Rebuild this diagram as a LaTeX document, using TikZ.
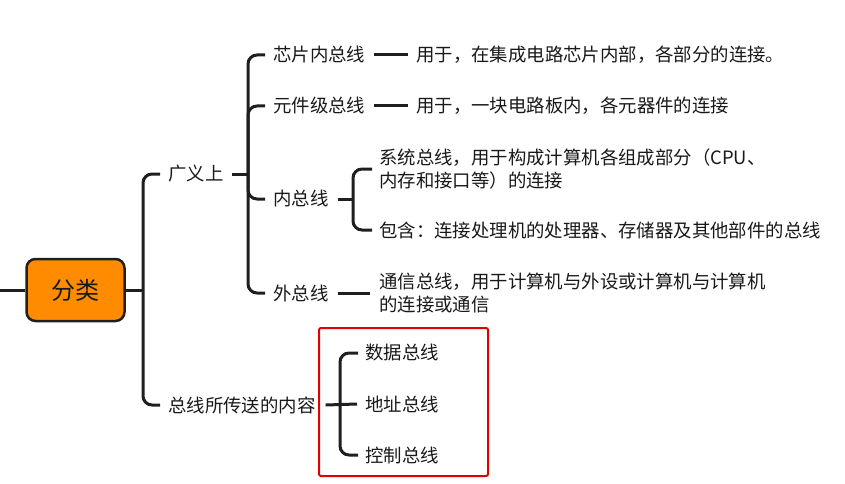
\documentclass[tikz,border=0pt]{standalone}
\usepackage{fontspec}
\newfontfamily\cjk{Noto Sans CJK SC}
\begin{document}
\begin{tikzpicture}[x=1pt,y=-1pt,
  conn/.style={line width=3pt,draw=black!88},
  txt/.style={anchor=west,inner sep=0pt,font=\cjk\fontsize{18.4}{23.5}\selectfont,text=black!90,align=left},
  rootbox/.style={draw=black!88,line width=2.5pt,rounded corners=9pt,minimum width=98pt,minimum height=62pt,font=\cjk\fontsize{24}{26}\selectfont,text=black!90},
  redbox/.style={draw=red!90!black,line width=2pt,rounded corners=2pt}]
\useasboundingbox (0,0) rectangle (845,484);
\definecolor{rootor}{RGB}{255,140,0}
\coordinate (lft) at (0,290);
\node[rootbox,fill=rootor] (root) at (75.5,290) {分类};
\node[txt] (gy) at (168,174) {广义上};
\node[txt] (nr) at (168,405) {总线所传送的内容};
\node[txt] (xp) at (273,55) {芯片内总线};
\node[txt] (yj) at (273,106) {元件级总线};
\node[txt] (nz) at (273,199) {内总线};
\node[txt] (wz) at (273,293) {外总线};
\node[txt] (xpd) at (416,55) {用于，在集成电路芯片内部，各部分的连接。};
\node[txt] (yjd) at (416,106) {用于，一块电路板内，各元器件的连接};
\node[txt] (xt) at (379,169) {系统总线，用于构成计算机各组成部分（CPU、\\内存和接口等）的连接};
\node[txt] (bh) at (379,230) {包含：连接处理机的处理器、存储器及其他部件的总线};
\node[txt] (tx) at (379,293) {通信总线，用于计算机与外设或计算机与计算机\\的连接或通信};
\node[txt] (sj) at (365,353) {数据总线};
\node[txt] (dz) at (365,404) {地址总线};
\node[txt] (kz) at (365,455) {控制总线};
% root connectors
\draw[conn] (lft) -- (root.west);
\draw[conn] (root.east) -- (143,290);
\draw[conn,rounded corners=9pt] ([xshift=-8pt]gy.west) -| (143,290) |- ([xshift=-8pt]nr.west);
% 广义上 branch
\draw[conn] ([xshift=8pt]gy.east) -- (248,174);
\draw[conn,rounded corners=9pt] ([xshift=-8pt]xp.west) -| (248,174) |- ([xshift=-8pt]wz.west);
\draw[conn,rounded corners=9pt] ([xshift=-8pt]yj.west) -| (248,150);
\draw[conn,rounded corners=9pt] (248,150) |- ([xshift=-8pt]nz.west);
% leaves
\draw[conn] ([xshift=9pt]xp.east) -- ([xshift=-8pt]xpd.west);
\draw[conn] ([xshift=9pt]yj.east) -- ([xshift=-8pt]yjd.west);
\draw[conn] ([xshift=9pt]wz.east) -- ([xshift=-9pt]tx.west);
% 内总线 branch
\draw[conn] ([xshift=9pt]nz.east) -- (353,199);
\draw[conn,rounded corners=9pt] ([xshift=-7pt]xt.west) -| (353,199) |- ([xshift=-7pt]bh.west);
% 总线所传送的内容 branch
\draw[conn] ([xshift=10pt]nr.east) -- ([xshift=-8pt]dz.west);
\draw[conn,rounded corners=9pt] ([xshift=-7pt]sj.west) -| (340,404) |- ([xshift=-7pt]kz.west);
\node[redbox,anchor=north west,minimum width=169pt,minimum height=148pt,inner sep=0pt] (rb) at (318,327) {};
\end{tikzpicture}
\end{document}
